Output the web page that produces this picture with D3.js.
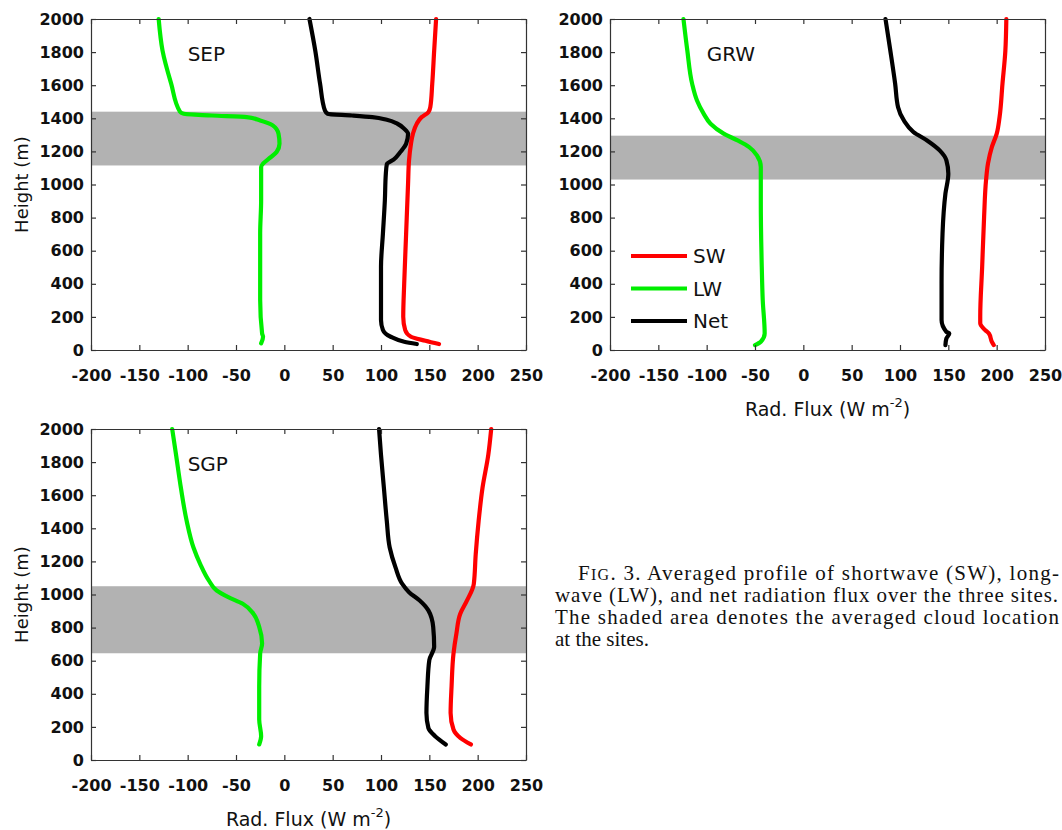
<!DOCTYPE html>
<html>
<head>
<meta charset="utf-8">
<script src="https://cdn.jsdelivr.net/npm/d3@7"></script>
<style>
    body { margin: 0; background: #fff; }
    svg { display: block; }
</style>
</head>
<body>
<div id="fig"></div>
<script>
// tick values and names
var xTicks = [-200, -150, -100, -50, 0, 50, 100, 150, 200, 250];
var yTicks = [0, 200, 400, 600, 800, 1000, 1200, 1400, 1600, 1800, 2000];
var seriesNames = ["SW", "LW", "Net"];

// [height (m), flux (W m-2)]
var sepSW = [[2000, 157], [1809, 155], [1608, 153], [1467, 151], [1437, 149], [1407, 142], [1367, 137], [1306, 133], [1246, 131], [1146, 129], [1005, 128], [704, 126], [402, 124], [201, 123], [121, 125], [80, 131], [56, 146], [36, 160]];
var sepLW = [[2000, -130], [1809, -126], [1608, -117], [1441, -108], [1427, -104], [1417, -75], [1407, -39], [1387, -25], [1357, -12], [1306, -6], [1246, -5], [1196, -8], [1156, -16], [1126, -22], [1106, -24], [905, -24], [704, -25], [503, -25], [302, -25], [100, -23], [80, -22], [40, -24]];
var sepNet = [[2000, 26], [1809, 32], [1608, 37], [1447, 42], [1427, 45], [1417, 70], [1407, 91], [1391, 106], [1367, 117], [1337, 124], [1306, 128], [1246, 126], [1196, 120], [1150, 113], [1122, 106], [1065, 105], [905, 104], [704, 102], [503, 100], [302, 100], [181, 100], [121, 102], [80, 110], [50, 124], [36, 137]];

var grwSW = [[2000, 210], [1809, 209], [1608, 206], [1407, 203], [1306, 200], [1226, 195], [1126, 191], [1025, 189], [804, 187], [503, 185], [201, 183], [161, 183], [121, 188], [100, 192], [50, 195], [30, 197]];
var grwLW = [[2000, -124], [1809, -120], [1608, -115], [1508, -110], [1427, -103], [1367, -96], [1306, -82], [1266, -68], [1226, -56], [1176, -48], [1106, -44], [905, -44], [503, -43], [302, -42], [100, -40], [50, -44], [30, -50]];
var grwNet = [[2000, 85], [1809, 90], [1608, 95], [1467, 98], [1387, 104], [1317, 114], [1266, 128], [1206, 141], [1146, 148], [1065, 150], [945, 147], [704, 144], [402, 143], [181, 143], [110, 148], [100, 151], [70, 148], [30, 147]];

var sgpSW = [[2000, 214], [1844, 211], [1644, 205], [1444, 201], [1244, 198], [1064, 196], [964, 189], [884, 182], [764, 178], [644, 175], [444, 173], [284, 172], [184, 175], [134, 182], [94, 193]];
var sgpLW = [[2000, -116], [1844, -112], [1644, -107], [1444, -101], [1284, -94], [1184, -87], [1084, -78], [1024, -70], [984, -58], [944, -43], [884, -32], [804, -26], [704, -23], [644, -25], [444, -26], [244, -26], [144, -24], [94, -26]];
var sgpNet = [[2000, 98], [1844, 100], [1644, 103], [1444, 106], [1284, 109], [1164, 115], [1064, 122], [1014, 129], [964, 140], [904, 149], [804, 154], [684, 155], [604, 150], [444, 148], [284, 147], [194, 149], [144, 156], [94, 167]];

// cloud layer [base, top] in m
var sepCloud = [1115, 1440];
var grwCloud = [1030, 1295];
var sgpCloud = [645, 1050];

(function () {
    "use strict";
    var svg, panels, colors, cap, l1,
        dims = {width: 1062, height: 830},
        plotW = 435,
        plotH = 331,
        tickFont = "DejaVu Sans, sans-serif";

    colors = {SW: "#ff0000", LW: "#00ee00", Net: "#000000"};

    panels = [
        {site: "SEP", left: 91, top: 19, cloud: sepCloud, series: [sepSW, sepLW, sepNet], yTitle: true, xTitle: false, legend: false},
        {site: "GRW", left: 610, top: 19, cloud: grwCloud, series: [grwSW, grwLW, grwNet], yTitle: false, xTitle: true, legend: true},
        {site: "SGP", left: 91, top: 429, cloud: sgpCloud, series: [sgpSW, sgpLW, sgpNet], yTitle: true, xTitle: true, legend: false}
    ];

    svg = d3.select("#fig").append("svg")
        .attr("width", dims.width)
        .attr("height", dims.height);

    svg.append("rect")
        .attr("width", dims.width)
        .attr("height", dims.height)
        .attr("fill", "#fff");

    // plain labels, ascii hyphen, no thousands comma
    function plain(d) {
        return String(d);
    }

    function styleAxis(g) {
        g.selectAll("path.domain").attr("stroke", "#333").attr("stroke-width", 1.2);
        g.selectAll(".tick line").attr("stroke", "#333").attr("stroke-width", 1.2);
        g.selectAll(".tick text")
            .attr("font-family", tickFont)
            .attr("font-weight", "bold")
            .attr("font-size", 16)
            .attr("fill", "#111");
    }

    panels.forEach(function (p) {
        var g, x, y, line, t, lg;

        x = d3.scaleLinear().domain([-200, 250]).range([0, plotW]);
        y = d3.scaleLinear().domain([0, 2000]).range([plotH, 0]);

        g = svg.append("g").attr("transform", "translate(" + p.left + "," + p.top + ")");

        // shaded cloud band
        g.append("rect")
            .attr("x", 0)
            .attr("width", plotW)
            .attr("y", y(p.cloud[1]))
            .attr("height", y(p.cloud[0]) - y(p.cloud[1]))
            .attr("fill", "#b2b2b2");

        line = d3.line()
            .x(function (d) {
                return x(d[1]);
            })
            .y(function (d) {
                return y(d[0]);
            })
            .curve(d3.curveMonotoneY);

        p.series.forEach(function (s, i) {
            g.append("path")
                .datum(s)
                .attr("d", line)
                .attr("fill", "none")
                .attr("stroke", colors[seriesNames[i]])
                .attr("stroke-width", 4.2)
                .attr("stroke-linejoin", "round")
                .attr("stroke-linecap", "round");
        });

        // axes, ticks pointing inward on all four sides
        g.append("g")
            .attr("transform", "translate(0," + plotH + ")")
            .call(d3.axisBottom(x).tickValues(xTicks).tickFormat(plain).tickSizeInner(-5).tickSizeOuter(0).tickPadding(20))
            .call(styleAxis);
        g.append("g")
            .call(d3.axisLeft(y).tickValues(yTicks).tickFormat(plain).tickSizeInner(-5).tickSizeOuter(0).tickPadding(7))
            .call(styleAxis);
        g.append("g")
            .call(d3.axisTop(x).tickValues(xTicks).tickSizeInner(-5).tickSizeOuter(0).tickFormat(""))
            .call(styleAxis);
        g.append("g")
            .attr("transform", "translate(" + plotW + ",0)")
            .call(d3.axisRight(y).tickValues(yTicks).tickSizeInner(-5).tickSizeOuter(0).tickFormat(""))
            .call(styleAxis);

        // site name
        g.append("text")
            .attr("x", x(-100))
            .attr("y", y(1745))
            .attr("font-family", tickFont)
            .attr("font-size", 20)
            .attr("fill", "#111")
            .text(p.site);

        if (p.yTitle) {
            g.append("text")
                .attr("transform", "translate(" + (22 - p.left) + "," + (plotH / 2) + ") rotate(-90)")
                .attr("text-anchor", "middle")
                .attr("dy", "0.35em")
                .attr("font-family", tickFont)
                .attr("font-size", 18)
                .attr("fill", "#111")
                .text("Height (m)");
        }

        if (p.xTitle) {
            t = g.append("text")
                .attr("x", plotW / 2)
                .attr("y", plotH + 66)
                .attr("text-anchor", "middle")
                .attr("font-family", tickFont)
                .attr("font-size", 19)
                .attr("fill", "#111");
            t.append("tspan").text("Rad. Flux (W m");
            t.append("tspan").attr("font-size", 13).attr("dy", -9).text("-2");
            t.append("tspan").attr("dy", 9).text(")");
        }

        if (p.legend) {
            lg = g.selectAll("g.legend").data(seriesNames).enter()
                .append("g")
                .attr("class", "legend")
                .attr("transform", function (d, i) {
                    return "translate(21," + (237 + i * 32.5) + ")";
                });
            lg.append("line")
                .attr("x1", 0)
                .attr("x2", 56)
                .attr("stroke", function (d) {
                    return colors[d];
                })
                .attr("stroke-width", 4);
            lg.append("text")
                .attr("x", 62)
                .attr("dy", "0.36em")
                .attr("font-family", tickFont)
                .attr("font-size", 20)
                .attr("fill", "#111")
                .text(function (d) {
                    return d;
                });
        }
    });

    // caption
    cap = svg.append("g")
        .attr("font-family", "Liberation Serif, Times New Roman, serif")
        .attr("font-size", 21)
        .attr("fill", "#111");
    l1 = cap.append("text").attr("x", 578).attr("y", 580)
        .attr("textLength", 481).attr("lengthAdjust", "spacing");
    l1.append("tspan").text("F");
    l1.append("tspan").attr("font-size", 16).text("IG");
    l1.append("tspan").text(". 3. Averaged profile of shortwave (SW), long-");
    cap.append("text").attr("x", 555).attr("y", 602)
        .attr("textLength", 503).attr("lengthAdjust", "spacing")
        .text("wave (LW), and net radiation flux over the three sites.");
    cap.append("text").attr("x", 555).attr("y", 624)
        .attr("textLength", 504).attr("lengthAdjust", "spacing")
        .text("The shaded area denotes the averaged cloud location");
    cap.append("text").attr("x", 555).attr("y", 646)
        .text("at the sites.");
}());
</script>
</body>
</html>
